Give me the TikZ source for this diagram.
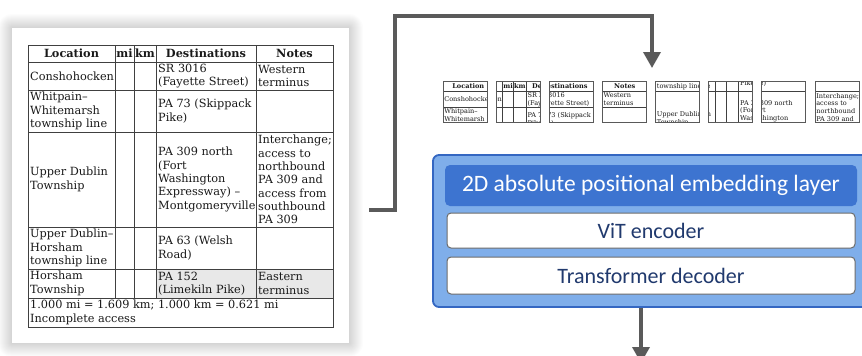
\documentclass[tikz,border=0pt]{standalone}
\usepackage{fontspec}
\setmainfont{Carlito}
\newfontfamily\tabfont{DejaVu Serif}
\usetikzlibrary{arrows.meta}

\definecolor{arrowgray}{HTML}{5A5A5A}
\definecolor{modelfill}{HTML}{7FAEEA}
\definecolor{modeldraw}{HTML}{3467C2}
\definecolor{hdrfill}{HTML}{3D74D0}
\definecolor{navytext}{HTML}{213A6E}

\newcommand{\tabtext}{\tabfont\fontsize{11.3}{13.3}\selectfont}

\tikzset{
  tabrule/.style={draw=black!75, line width=0.9pt},
  tabcell/.style={anchor=west, inner sep=0pt, align=left, text=black!90, font=\tabtext},
  tabhead/.style={inner sep=0pt, text=black!90, font=\tabtext\bfseries},
}

% window of the table that is shown (left, right, top, bottom)
\def\winL{0}\def\winR{1000}\def\winT{0}\def\winB{1000}

% a cell: name, x0, x1, y0, y1, text
\newcommand{\tbcell}[6]{%
  \pgfmathtruncatemacro\cellon{((#2<\winR)&&(#3>\winL)&&(#4<\winB)&&(#5>\winT))?1:0}%
  \ifnum\cellon=1 \node[tabcell] (#1) at ({#2+2},{(#4+#5)/2}) {#6};\fi}
% a header cell: name, x0, x1, text
\newcommand{\thcell}[4]{%
  \pgfmathtruncatemacro\cellon{((#2<\winR)&&(#3>\winL)&&(45<\winB)&&(62>\winT))?1:0}%
  \ifnum\cellon=1 \node[tabhead] (#1) at ({(#2+#3)/2},53.5) {#4};\fi}

% the highway table, in pixel units
\newcommand{\hwytable}[1]{%
  \fill[black!9] (156,269) rectangle (333,298);
  \draw[tabrule] (28,45) rectangle (333,327);
  \foreach \y in {62,90,132,227,269,298} \draw[tabrule] (28,\y) -- (333,\y);
  \foreach \x in {115,134,156,256} \draw[tabrule] (\x,45) -- (\x,298);
  \thcell{#1-h1}{28}{115}{Location}
  \thcell{#1-h2}{115}{134}{mi}
  \thcell{#1-h3}{134}{156}{km}
  \thcell{#1-h4}{156}{256}{Destinations}
  \thcell{#1-h5}{256}{333}{Notes}
  \tbcell{#1-a1}{28}{115}{62}{90}{Conshohocken}
  \tbcell{#1-a4}{156}{256}{62}{90}{SR 3016\\(Fayette Street)}
  \tbcell{#1-a5}{256}{333}{62}{90}{Western\\terminus}
  \tbcell{#1-b1}{28}{115}{90}{132}{Whitpain–\\Whitemarsh\\township line}
  \tbcell{#1-b4}{156}{256}{90}{132}{PA 73 (Skippack\\Pike)}
  \tbcell{#1-c1}{28}{115}{132}{227}{Upper Dublin\\Township}
  \tbcell{#1-c4}{156}{256}{132}{227}{PA 309 north\\(Fort\\Washington\\Expressway) –\\Montgomeryville}
  \tbcell{#1-c5}{256}{333}{132}{227}{Interchange;\\access to\\northbound\\PA 309 and\\access from\\southbound\\PA 309}
  \tbcell{#1-d1}{28}{115}{227}{269}{Upper Dublin–\\Horsham\\township line}
  \tbcell{#1-d4}{156}{256}{227}{269}{PA 63 (Welsh\\Road)}
  \tbcell{#1-e1}{28}{115}{269}{298}{Horsham\\Township}
  \tbcell{#1-e4}{156}{256}{269}{298}{PA 152\\(Limekiln Pike)}
  \tbcell{#1-e5}{256}{333}{269}{298}{Eastern\\terminus}
  \tbcell{#1-f1}{28}{333}{298}{327}{1.000 mi = 1.609 km; 1.000 km = 0.621 mi\\Incomplete access}
}

\begin{document}
\begin{tikzpicture}[x=1pt, y=-1pt,
  flowarrow/.style={draw=arrowgray, line width=3.5pt, -{Triangle[width=17pt,length=16pt]}},
  sheet/.style={fill=white, minimum width=337pt, minimum height=315pt, inner sep=0pt},
  tilebox/.style={draw=black!65, line width=1pt, minimum width=44pt, minimum height=40.6pt, inner sep=0pt},
  model/.style={fill=modelfill, draw=modeldraw, line width=1.8pt, rounded corners=6pt,
    minimum width=437pt, minimum height=152pt, inner sep=0pt},
  hdr/.style={fill=hdrfill, rounded corners=5pt, text=white, font=\fontsize{23.5}{28}\selectfont,
    minimum width=412pt, minimum height=41pt, inner sep=0pt},
  blockbox/.style={fill=white, draw=black!58, line width=1pt, rounded corners=4pt, text=navytext,
    font=\fontsize{22}{26}\selectfont, minimum width=408pt, inner sep=0pt},
]

\useasboundingbox (0,0) rectangle (862,356);
\fill[white] (0,0) rectangle (862,356);
\clip (0,0) rectangle (862,356);

% page with its shadow
\foreach \i in {1,...,14}
  \fill[black, opacity=0.011, rounded corners=\i pt] ({12-\i},{28-\i}) rectangle ({349+\i},{343+\i});
\node[sheet] (page) at (180.5,185.5) {};
\hwytable{pg}

% patches
\foreach \i in {0,...,7} {
  \pgfmathsetmacro\tilex{443+53.15*\i}
  \pgfmathsetmacro\winL{28+76*mod(\i,4)}
  \pgfmathsetmacro\winT{45+70*floor(\i/4)}
  \pgfmathsetmacro\winR{\winL+76}
  \pgfmathsetmacro\winB{\winT+70}
  \begin{scope}
    \clip (\tilex,81.5) rectangle ++(44,40.6);
    \begin{scope}[shift={(\tilex,81.5)}, scale=0.58, shift={(-\winL,-\winT)}, transform shape]
      \hwytable{t\i}
    \end{scope}
  \end{scope}
  \node[tilebox] (tile\i) at ({\tilex+22},101.8) {};
}

% model
\node[model] (model) at (651.5,231) {};
\node[hdr] (posemb) at (651,185.5) {2D absolute positional embedding layer};
\node[blockbox, minimum height=35pt] (vitenc) at (651,230.5) {ViT encoder};
\node[blockbox, minimum height=37pt] (decoder) at (651,275.5) {Transformer decoder};

\coordinate (src) at (369,210);
\coordinate (bend) at (395,16);
\coordinate (intake) at (652,68);
\coordinate (out) at (641,363);
\draw[flowarrow] (src) -| (bend) -| (intake);
\draw[flowarrow] (model.south -| out) -- (out);

\end{tikzpicture}
\end{document}
